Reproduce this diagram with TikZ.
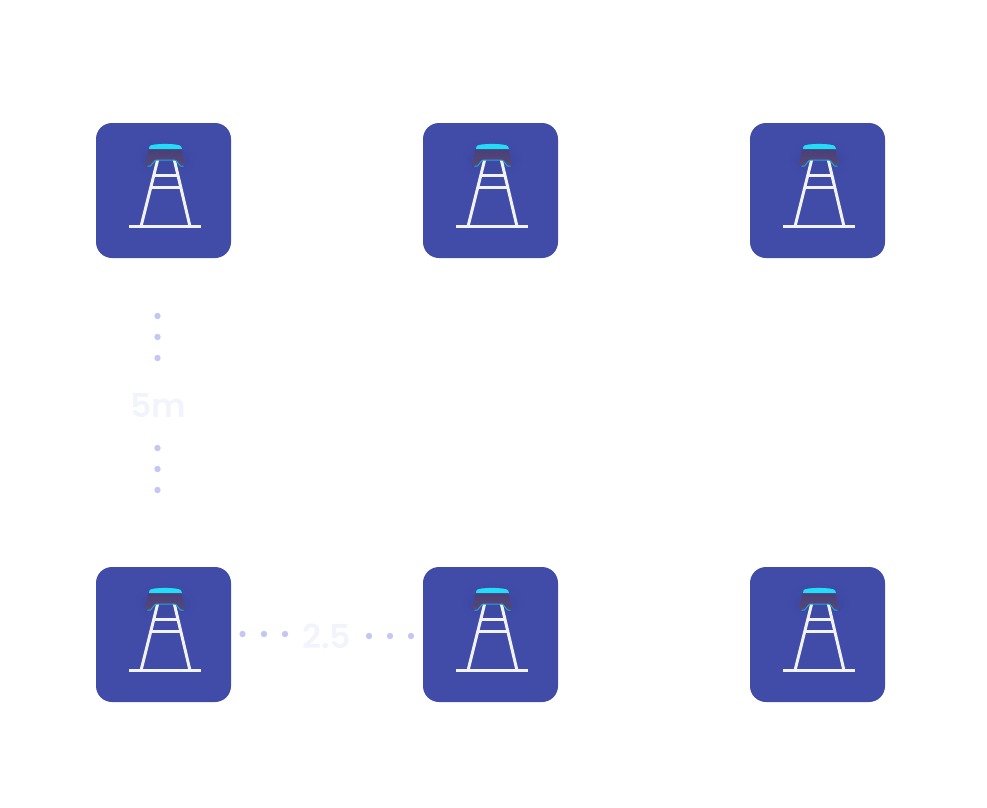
\documentclass[tikz,border=0pt]{standalone}
\usepackage{fontspec}
\setmainfont{Poppins SemiBold}
\usetikzlibrary{calc}
\definecolor{tilecol}{HTML}{404CA8}
\definecolor{capcyan}{HTML}{22DDF8}
\definecolor{rimcol}{HTML}{1EA6DA}
\definecolor{capbody}{HTML}{4A3E78}
\definecolor{capbodyb}{HTML}{564A78}
\definecolor{dotcol}{HTML}{C2C8F3}
\definecolor{labelcol}{HTML}{F2F4FC}
\tikzset{
    towertile/.style={fill=tilecol, rounded corners=16pt, minimum size=135pt, inner sep=0pt},
    towerline/.style={draw=white!93!tilecol, line width=3pt},
    spacedot/.style={fill=dotcol},
    distlabel/.style={text=labelcol, font=\fontsize{33}{33}\selectfont},
    towerpic/.pic={
        % halo below the cap
        \fill[black, opacity=.012] (2,-32) ellipse (30 and 20);
        \fill[black, opacity=.018] (2,-31) ellipse (25 and 13);
        % legs and rungs
        \draw[towerline] (-34.5,36) -- (37.5,36);
        \draw[towerline] (-22.5,36) -- (-5.5,-32);
        \draw[towerline] (26.5,36) -- (10.5,-32);
        \draw[towerline] (-8.5,-15.5) -- (13.5,-15.5);
        \draw[towerline] (-11.5,-3.5) -- (16.5,-3.5);
        % cap
        \shade[top color=capbody, bottom color=capbodyb] (-15,-42) -- (17.5,-42) .. controls (19,-36) and (20,-31) .. (21,-28)
            .. controls (21.5,-25) and (19,-23.5) .. (17,-24.5)
            .. controls (14.5,-26) and (14,-30) .. (11,-30.5) -- (-7,-30.5)
            .. controls (-10,-30) and (-10.5,-26) .. (-13,-24.5)
            .. controls (-15,-23.5) and (-18.5,-25) .. (-18,-28)
            .. controls (-17,-31) and (-16,-36) .. (-15,-42) -- cycle;
        \draw[rimcol, line width=1pt] (-16,-24.2)
            .. controls (-14.5,-24) and (-13.8,-24) .. (-13,-24.5)
            .. controls (-10.5,-26) and (-10,-30) .. (-7,-30.5) -- (11,-30.5)
            .. controls (14,-30) and (14.5,-26) .. (17,-24.5)
            .. controls (17.8,-24) and (18.5,-24) .. (20,-24.2);
        \fill[capcyan] (-14.5,-41.5) .. controls (-14.5,-45.5) and (-12,-45.5) .. (-9,-46)
            .. controls (-2,-46.8) and (5,-46.8) .. (12,-46)
            .. controls (15,-45.5) and (18,-45.5) .. (18.5,-41.5) -- cycle;
    },
}

\begin{document}
\begin{tikzpicture}[x=1pt, y=-1pt]
    \useasboundingbox (0,0) rectangle (987,807);

    \node[towertile] (tileA) at (163.5,190.5) {};
    \node[towertile] (tileB) at (490.5,190.5) {};
    \node[towertile] (tileC) at (817.5,190.5) {};
    \node[towertile] (tileD) at (163.5,634.5) {};
    \node[towertile] (tileE) at (490.5,634.5) {};
    \node[towertile] (tileF) at (817.5,634.5) {};

    \foreach \t in {tileA,tileB,tileC,tileD,tileE,tileF}
        \pic at (\t) {towerpic};

    % dots
    \foreach \y in {316,337,358,448,469,490}
        \fill[spacedot] (157.5,\y) circle (3.2);
    \foreach \x in {242.5,264,285}
        \fill[spacedot] (\x,634) circle (3.2);
    \foreach \x in {369,390,411}
        \fill[spacedot] (\x,636) circle (3.2);

    \node[distlabel] (labelV) at (158.5,405.5) {5m};
    \node[distlabel] (labelH) at (326.5,636.5) {2.5};
\end{tikzpicture}
\end{document}
